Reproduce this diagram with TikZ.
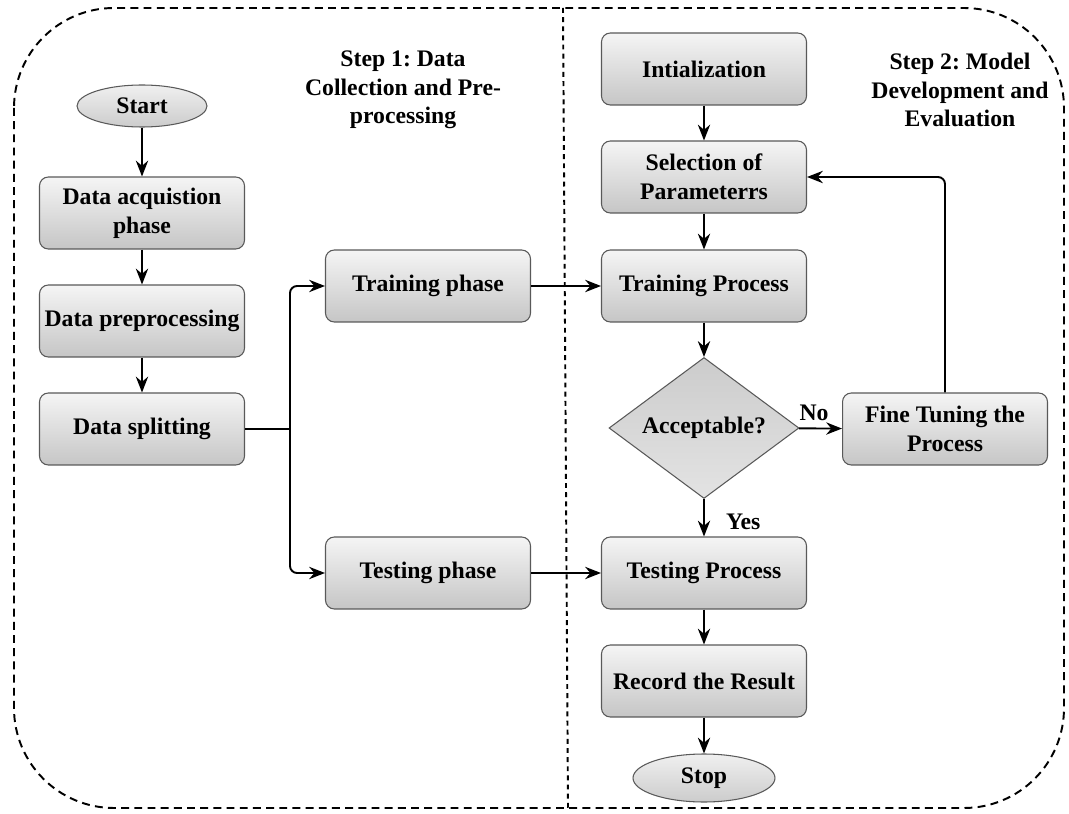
\documentclass[tikz,border=0pt]{standalone}
\usepackage{fontspec}
\setmainfont{Liberation Serif}
\usetikzlibrary{arrows.meta,shapes.geometric}
\begin{document}
\frenchspacing
\begin{tikzpicture}[x=0.02cm,y=-0.02cm,
  every node/.style={font=\fontsize{13.5}{16.3}\selectfont\bfseries, align=center, inner sep=0pt},
  procbox/.style={draw=gray!70!black, line width=0.6pt, rounded corners=5pt,
    top color=gray!8, bottom color=gray!45, minimum width=4.1cm, minimum height=1.44cm},
  terminal/.style={ellipse, draw=gray!70!black, line width=0.6pt,
    top color=gray!12, bottom color=gray!40, minimum width=2.6cm, minimum height=0.84cm},
  decision/.style={diamond, draw=gray!70!black, line width=0.6pt,
    top color=gray!40, bottom color=gray!22, minimum width=3.8cm, minimum height=2.82cm, aspect=1.35},
  flow/.style={-{Stealth[length=9pt,width=7pt]}, line width=1.1pt},
  frame/.style={line width=1.1pt, dash pattern=on 4.5pt off 3pt},
  divider/.style={line width=1.1pt, dash pattern=on 2.8pt off 2.4pt}]
\useasboundingbox (0,0) rectangle (1069,814);

% outer dashed frame and the divider between the two steps
\draw[frame, rounded corners=2cm] (14,8) rectangle (1064,808);
\draw[divider] (563,8) -- (568,808);

% section titles
\node (t1) at (403,90) {Step 1: Data\\Collection and Pre-\\processing};
\node (t2) at (960,90) {Step 2: Model\\Development and\\Evaluation};

% step 1
\node[terminal] (start) at (142,106) {Start};
\node[procbox] (acq) at (142,213) {Data acquistion\\phase};
\node[procbox] (pre) at (142,321) {Data preprocessing};
\node[procbox] (split) at (142,429) {Data splitting};
\node[procbox] (trph) at (428,286) {Training phase};
\node[procbox] (teph) at (428,573) {Testing phase};

% step 2
\node[procbox] (init) at (704,69) {Intialization};
\node[procbox] (sel) at (704,177) {Selection of\\Parameterrs};
\node[procbox] (trpr) at (704,286) {Training Process};
\node[decision] (acc) at (704,428) {Acceptable?};
\node[procbox] (fine) at (945,429) {Fine Tuning the\\Process};
\node[procbox] (tepr) at (704,573) {Testing Process};
\node[procbox] (rec) at (704,681) {Record the Result};
\node[terminal, minimum width=2.84cm, minimum height=0.96cm] (stop) at (704,778) {Stop};

\coordinate (fork) at (290,429);

% connectors
\draw[flow] (start) -- (acq);
\draw[flow] (acq) -- (pre);
\draw[flow] (pre) -- (split);
\draw[line width=1.1pt] (split) -- (fork);
\draw[flow, rounded corners=4pt] (fork) |- (trph);
\draw[flow, rounded corners=4pt] (fork) |- (teph);
\draw[flow] (trph) -- (trpr);
\draw[flow] (teph) -- (tepr);
\draw[flow] (init) -- (sel);
\draw[flow] (sel) -- (trpr);
\draw[flow] (trpr) -- (acc);
\draw[flow] (acc) -- node[anchor=south, pos=0.35, yshift=4pt] (no) {No} (fine);
\draw[flow] (acc) -- node[anchor=west, pos=0.6, xshift=12pt] (yes) {Yes} (tepr);
\draw[flow, rounded corners=4pt] (fine.north) |- (sel.east);
\draw[flow] (tepr) -- (rec);
\draw[flow] (rec) -- (stop);
\end{tikzpicture}
\end{document}
